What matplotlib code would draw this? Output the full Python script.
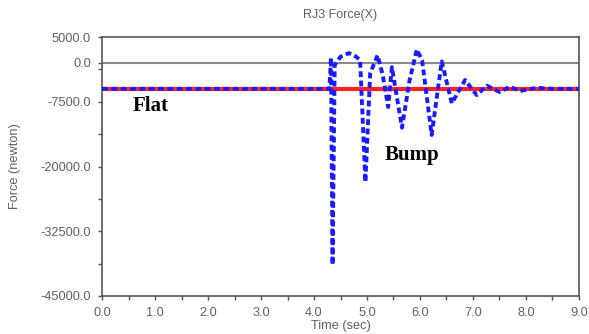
import matplotlib
matplotlib.use("Agg")
import matplotlib.pyplot as plt
from matplotlib.ticker import MultipleLocator, FixedLocator

# Data
flat_t = [0.0, 9.0]
flat_v = [-5000, -5000]

bump_t = [0.0, 4.29, 4.32, 4.35, 4.39, 4.50, 4.66, 4.78, 4.87, 4.97, 5.06,
          5.20, 5.30, 5.40, 5.47, 5.66, 5.80, 5.94, 6.04, 6.22, 6.41, 6.60,
          6.85, 7.07, 7.26, 7.50, 7.70, 7.89, 8.20, 8.50, 9.0]
bump_v = [-5000, -5000, 1000, -39000, -400, 1200, 1900, 1300, 600, -23000, -2000,
          1500, -2500, -8500, -800, -12500, -3500, 2600, 500, -13900, 300, -7800,
          -3300, -6200, -4400, -5600, -4600, -5400, -4800, -5000, -5000]

yticks = [5000, 0, -7500, -20000, -32500, -45000]
yminor = [-38750, -26250, -13750, -1250]
xticks = [0, 1, 2, 3, 4, 5, 6, 7, 8, 9]

fig = plt.figure(figsize=(5.89, 3.34), dpi=100)
ax = fig.add_axes([0.1732, 0.1138, 0.8098, 0.7752])

grey = '#606060'
ax.axhline(0, color='#8a8a8a', lw=1.5, zorder=1)
ax.plot(flat_t, flat_v, color='#ff2020', lw=3, zorder=2)
ax.plot(bump_t, bump_v, color='#1a1aff', lw=2.8, linestyle=(0, (1.5, 0.9)), zorder=3)

ax.set_xlim(0, 9)
ax.set_ylim(-45000, 5000)
ax.xaxis.set_major_locator(FixedLocator(xticks))
ax.xaxis.set_minor_locator(MultipleLocator(0.5))
ax.yaxis.set_major_locator(FixedLocator(yticks))
ax.yaxis.set_minor_locator(FixedLocator(yminor))
ax.set_xticklabels([f"{x:.1f}" for x in xticks])
ax.set_yticklabels([f"{y:.1f}" for y in yticks])

for lab in ax.get_xticklabels() + ax.get_yticklabels():
    lab.set_family('Liberation Sans')
    lab.set_fontsize(9.2)
    lab.set_color(grey)
ax.tick_params(which='both', direction='out', length=3, width=1, color='#555555')
ax.tick_params(axis='y', pad=5)
ax.tick_params(axis='x', pad=5)
for s in ax.spines.values():
    s.set_color('#555555')
    s.set_linewidth(1.2)

ax.set_title('RJ3 Force(X)', fontsize=9, color=grey, family='Liberation Sans', pad=14)
ax.set_xlabel('Time (sec)', fontsize=9.2, color=grey, family='Liberation Sans', labelpad=1)
ax.set_ylabel('Force (newton)', fontsize=9.2, color=grey, family='Liberation Sans', labelpad=14)

ax.text(0.58, -8400, 'Flat', family='Liberation Serif', fontweight='bold', fontsize=15,
        va='center', ha='left', color='black')
ax.text(5.34, -17800, 'Bump', family='Liberation Serif', fontweight='bold', fontsize=15,
        va='center', ha='left', color='black')

fig.savefig('out.png', dpi=100)
